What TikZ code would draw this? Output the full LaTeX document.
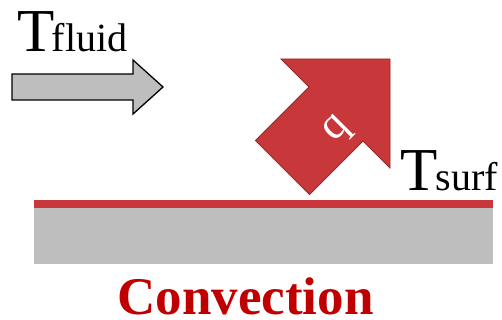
\documentclass[tikz,border=0pt]{standalone}
\usepackage{fontspec}
\setmainfont{Liberation Serif}
\definecolor{arrowred}{RGB}{200,56,58}
\definecolor{arrowredline}{RGB}{150,38,40}
\definecolor{surfgray}{RGB}{190,190,190}
\definecolor{convred}{RGB}{192,0,0}
\tikzset{
  bigT/.style={anchor=base west, inner sep=0pt, font=\fontsize{61}{63}\selectfont},
  subtxt/.style={anchor=base west, inner sep=0pt, font=\fontsize{40}{42}\selectfont},
  flowarrow/.style={fill=surfgray, draw=black, line width=1.3pt, line join=miter},
  heatarrow/.style={fill=arrowred, draw=arrowredline, line width=0.9pt, line join=miter},
}
\begin{document}
\begin{tikzpicture}[x=1pt,y=-1pt]
\useasboundingbox (0,0) rectangle (502,320);
% fluid flow arrow
\draw[flowarrow] (12,74) -- (133,74) -- (133,60) -- (163,87) -- (133,114) -- (133,100) -- (12,100) -- cycle;
\node[bigT] (tf) at (17,52) {T};
\node[subtxt, xshift=-3pt] (fluid) at (tf.base east) {fluid};
% heat flux arrow
\draw[heatarrow] (281,59) -- (390,59) -- (390,168) -- (363,141) -- (309.5,194.5) -- (255.5,140.5) -- (309,87) -- cycle;
\node[text=white, rotate=45, inner sep=0pt, font=\fontsize{44}{46}\selectfont] (q) at (338,131) {q};
% surface temperature
\node[bigT] (ts) at (400,190) {T};
\node[subtxt, xshift=-2pt] (surf) at (ts.base east) {surf};
% surface
\fill[arrowred] (34,200) rectangle (493,208);
\fill[surfgray] (34,208) rectangle (493,264);
\node[anchor=base, inner sep=0pt, text depth=0pt, text=convred, font=\bfseries\fontsize{53}{55}\selectfont] (conv) at (245.5,314) {Convection};
\end{tikzpicture}
\end{document}
